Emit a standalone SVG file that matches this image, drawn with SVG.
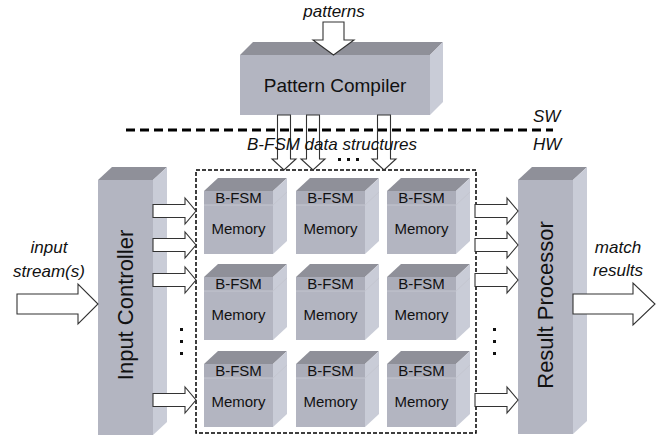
<svg xmlns="http://www.w3.org/2000/svg" width="664" height="436" viewBox="0 0 664 436">
<style>
.front{fill:#b3b5c1}
.band{fill:#abadb9}
.side{fill:#c9ccd7}
.top{fill:#8f9099}
.div{stroke:#c4c6d0;stroke-width:1;fill:none}
.arr{fill:#fff;stroke:#333;stroke-width:1.1;stroke-linejoin:miter}
.t{font-family:"Liberation Sans",Arial,sans-serif;fill:#111}
.it{font-family:"Liberation Sans",Arial,sans-serif;font-style:italic;fill:#111;font-size:17px}
.cl{font-size:15px;text-anchor:middle}
.dot{fill:#111}
</style>
<defs>
<g id="cube">
<polygon class="top" points="0,0 14,-13 83,-13 69,0"/>
<polygon class="side" points="69,0 83,-13 83,50 69,63"/>
<rect class="band" x="0" y="0" width="69" height="14"/>
<rect class="front" x="0" y="14" width="69" height="49"/>
<line class="div" x1="0" y1="14" x2="69" y2="14"/>
<line class="div" x1="69" y1="14" x2="83" y2="1"/>
<text class="t cl" x="34.5" y="12">B-FSM</text>
<text class="t cl" x="34.5" y="43">Memory</text>
</g>
<polygon id="sa" class="arr" points="0,-6.5 32,-6.5 32,-13 43,0 32,13 32,6.5 0,6.5"/>
<polygon id="da" class="arr" points="-6.5,0 6.5,0 6.5,44 12,44 0,55 -12,44 -6.5,44"/>
</defs>

<g id="pattern-compiler">
<polygon class="top" points="240,55 253,42 443,42 430,55"/>
<polygon class="side" points="430,55 443,42 443,102 430,115"/>
<rect class="front" x="240" y="55" width="190" height="60"/>
<text class="t" x="335" y="92" font-size="19" text-anchor="middle">Pattern Compiler</text>
</g>

<g id="input-controller">
<polygon class="top" points="98,180 112,167 167,167 153,180"/>
<polygon class="side" points="153,180 167,167 167,422 153,435"/>
<rect class="front" x="98" y="180" width="55" height="255"/>
<text class="t" transform="translate(133,305) rotate(-90)" font-size="22" text-anchor="middle">Input Controller</text>
</g>

<g id="result-processor">
<polygon class="top" points="518,180 532,167 587,167 573,180"/>
<polygon class="side" points="573,180 587,167 587,421 573,434"/>
<rect class="front" x="518" y="180" width="55" height="254"/>
<text class="t" transform="translate(553,305) rotate(-90)" font-size="22" text-anchor="middle">Result Processor</text>
</g>

<g id="bfsm-array">
<rect x="196" y="170" width="280" height="263" fill="none" stroke="#000" stroke-width="1.5" stroke-dasharray="4 2"/>
<g id="cube-1-1"><use href="#cube" x="204" y="191"/></g>
<g id="cube-1-2"><use href="#cube" x="296" y="191"/></g>
<g id="cube-1-3"><use href="#cube" x="387" y="191"/></g>
<g id="cube-2-1"><use href="#cube" x="204" y="277"/></g>
<g id="cube-2-2"><use href="#cube" x="296" y="277"/></g>
<g id="cube-2-3"><use href="#cube" x="387" y="277"/></g>
<g id="cube-3-1"><use href="#cube" x="204" y="364"/></g>
<g id="cube-3-2"><use href="#cube" x="296" y="364"/></g>
<g id="cube-3-3"><use href="#cube" x="387" y="364"/></g>
</g>

<g id="connectors">
<polygon class="arr" points="323,22 344,22 344,40 354,40 333.5,55 313,40 323,40"/>
<use href="#da" x="284" y="115"/>
<use href="#da" x="313" y="115"/>
<use href="#da" x="384" y="115"/>
<use href="#sa" x="153" y="211"/>
<use href="#sa" x="153" y="245"/>
<use href="#sa" x="153" y="280"/>
<use href="#sa" x="153" y="400"/>
<use href="#sa" x="475" y="211"/>
<use href="#sa" x="475" y="245"/>
<use href="#sa" x="475" y="280"/>
<use href="#sa" x="475" y="400"/>
<polygon class="arr" points="17,294 78,294 78,284 98,304 78,324 78,314 17,314"/>
<polygon class="arr" points="573,294 633,294 633,283 655,304 633,325 633,314 573,314"/>
</g>

<g id="sw-hw">
<line x1="126" y1="130" x2="553" y2="130" stroke="#000" stroke-width="3" stroke-dasharray="9 5"/>
<text class="it" x="533" y="122">SW</text>
<text class="it" x="533" y="150">HW</text>
<text class="it" x="247" y="150">B-FSM data structures</text>
<rect class="dot" x="338" y="158" width="3" height="3"/>
<rect class="dot" x="347" y="158" width="3" height="3"/>
<rect class="dot" x="356" y="158" width="3" height="3"/>
</g>

<g id="ellipses">
<rect class="dot" x="180" y="328" width="3" height="3"/>
<rect class="dot" x="180" y="340" width="3" height="3"/>
<rect class="dot" x="180" y="352" width="3" height="3"/>
<rect class="dot" x="493" y="328" width="3" height="3"/>
<rect class="dot" x="493" y="340" width="3" height="3"/>
<rect class="dot" x="493" y="352" width="3" height="3"/>
</g>

<g id="labels">
<text class="it" x="334" y="17" text-anchor="middle">patterns</text>
<text class="it" x="49" y="253" text-anchor="middle">input</text>
<text class="it" x="49" y="277" text-anchor="middle">stream(s)</text>
<text class="it" x="618" y="253" text-anchor="middle">match</text>
<text class="it" x="618" y="276" text-anchor="middle">results</text>
</g>
</svg>
